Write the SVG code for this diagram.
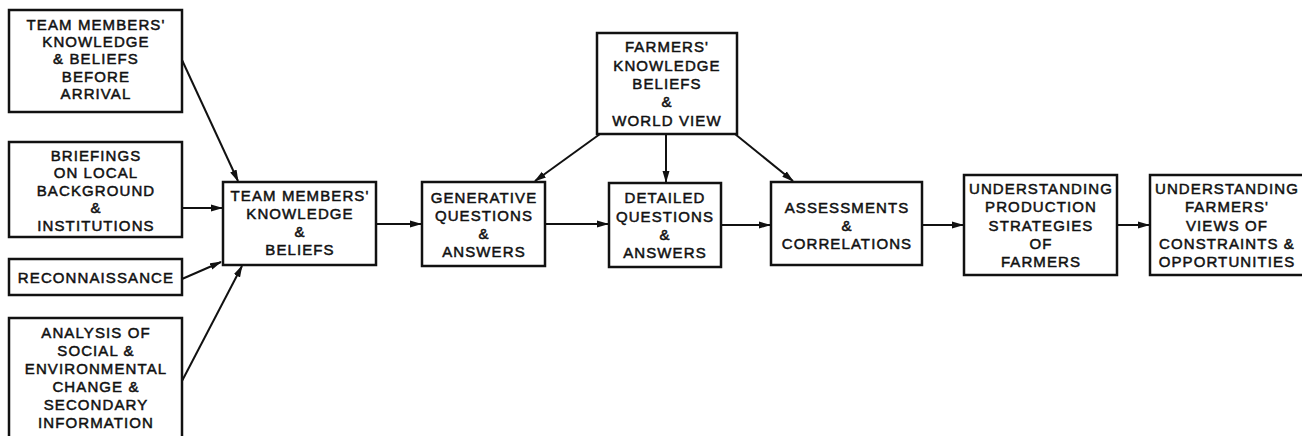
<svg xmlns="http://www.w3.org/2000/svg" width="1302" height="436" viewBox="0 0 1302 436">
<style>
  .box { fill: #fff; stroke: #111; stroke-width: 2.5; }
  .lbl { font-family: "Liberation Sans", Arial, sans-serif; font-size: 15px; letter-spacing: 1.1px; fill: #111; text-anchor: middle; stroke: #111; stroke-width: 0.5; }
  .con { stroke: #111; stroke-width: 2; fill: none; marker-end: url(#ah); }
</style>
<defs>
  <marker id="ah" markerUnits="userSpaceOnUse" markerWidth="12" markerHeight="8" refX="11" refY="4" orient="auto">
    <path d="M0,0.5 L12,4 L0,7.5 z" fill="#111"/>
  </marker>
</defs>
<rect width="1302" height="436" fill="#fff"/>

<g id="n-before-arrival">
  <rect class="box" x="9" y="10" width="173" height="102"/>
  <text class="lbl" x="96" y="29.5">TEAM MEMBERS'</text>
  <text class="lbl" x="96" y="47">KNOWLEDGE</text>
  <text class="lbl" x="96" y="64.3">&amp; BELIEFS</text>
  <text class="lbl" x="96" y="81.6">BEFORE</text>
  <text class="lbl" x="96" y="99">ARRIVAL</text>
</g>
<g id="n-briefings">
  <rect class="box" x="9" y="142" width="173" height="95"/>
  <text class="lbl" x="96" y="160.7">BRIEFINGS</text>
  <text class="lbl" x="96" y="178.2">ON LOCAL</text>
  <text class="lbl" x="96" y="195.7">BACKGROUND</text>
  <text class="lbl" x="96" y="213.2">&amp;</text>
  <text class="lbl" x="96" y="230.7">INSTITUTIONS</text>
</g>
<g id="n-recon">
  <rect class="box" x="9" y="259" width="173" height="36"/>
  <text class="lbl" x="96" y="283.3">RECONNAISSANCE</text>
</g>
<g id="n-analysis">
  <rect class="box" x="9" y="318" width="173" height="124"/>
  <text class="lbl" x="96" y="338.3">ANALYSIS OF</text>
  <text class="lbl" x="96" y="356.3">SOCIAL &amp;</text>
  <text class="lbl" x="96" y="374.3">ENVIRONMENTAL</text>
  <text class="lbl" x="96" y="392.3">CHANGE &amp;</text>
  <text class="lbl" x="96" y="410.3">SECONDARY</text>
  <text class="lbl" x="96" y="428.3">INFORMATION</text>
</g>
<g id="n-team">
  <rect class="box" x="223" y="182" width="153" height="83"/>
  <text class="lbl" x="300" y="200.7">TEAM MEMBERS'</text>
  <text class="lbl" x="300" y="218.7">KNOWLEDGE</text>
  <text class="lbl" x="300" y="236.7">&amp;</text>
  <text class="lbl" x="300" y="254.7">BELIEFS</text>
</g>
<g id="n-farmers">
  <rect class="box" x="597" y="33" width="140" height="101"/>
  <text class="lbl" x="667" y="52.3">FARMERS'</text>
  <text class="lbl" x="667" y="70.7">KNOWLEDGE</text>
  <text class="lbl" x="667" y="89">BELIEFS</text>
  <text class="lbl" x="667" y="107.4">&amp;</text>
  <text class="lbl" x="667" y="125.8">WORLD VIEW</text>
</g>
<g id="n-generative">
  <rect class="box" x="422" y="182" width="123" height="84"/>
  <text class="lbl" x="484" y="202.7">GENERATIVE</text>
  <text class="lbl" x="484" y="220.7">QUESTIONS</text>
  <text class="lbl" x="484" y="239">&amp;</text>
  <text class="lbl" x="484" y="256.7">ANSWERS</text>
</g>
<g id="n-detailed">
  <rect class="box" x="609" y="183" width="112" height="84"/>
  <text class="lbl" x="665" y="202.7">DETAILED</text>
  <text class="lbl" x="665" y="221.5">QUESTIONS</text>
  <text class="lbl" x="665" y="240">&amp;</text>
  <text class="lbl" x="665" y="258.3">ANSWERS</text>
</g>
<g id="n-assessments">
  <rect class="box" x="771" y="182" width="151" height="83"/>
  <text class="lbl" x="847" y="212.7">ASSESSMENTS</text>
  <text class="lbl" x="847" y="230.7">&amp;</text>
  <text class="lbl" x="847" y="249.3">CORRELATIONS</text>
</g>
<g id="n-production">
  <rect class="box" x="964" y="175" width="153" height="100"/>
  <text class="lbl" x="1041" y="194">UNDERSTANDING</text>
  <text class="lbl" x="1041" y="212.3">PRODUCTION</text>
  <text class="lbl" x="1041" y="230.7">STRATEGIES</text>
  <text class="lbl" x="1041" y="249.3">OF</text>
  <text class="lbl" x="1041" y="267.3">FARMERS</text>
</g>
<g id="n-views">
  <rect class="box" x="1150" y="175" width="154" height="100"/>
  <text class="lbl" x="1227" y="194">UNDERSTANDING</text>
  <text class="lbl" x="1227" y="212.3">FARMERS'</text>
  <text class="lbl" x="1227" y="230.7">VIEWS OF</text>
  <text class="lbl" x="1227" y="249.3">CONSTRAINTS &amp;</text>
  <text class="lbl" x="1227" y="267.3">OPPORTUNITIES</text>
</g>

<g id="connectors">
  <line class="con" x1="182" y1="60" x2="238" y2="181"/>
  <line class="con" x1="182" y1="208" x2="222" y2="208"/>
  <line class="con" x1="182" y1="279" x2="221" y2="262"/>
  <line class="con" x1="182" y1="381" x2="242" y2="266"/>
  <line class="con" x1="376" y1="224" x2="421" y2="224"/>
  <line class="con" x1="545" y1="224" x2="608" y2="224"/>
  <line class="con" x1="721" y1="225" x2="770" y2="225"/>
  <line class="con" x1="922" y1="225" x2="963" y2="225"/>
  <line class="con" x1="1117" y1="225" x2="1149" y2="225"/>
  <line class="con" x1="600" y1="134" x2="535" y2="181"/>
  <line class="con" x1="666" y1="134" x2="666" y2="182"/>
  <line class="con" x1="735" y1="134" x2="793" y2="181"/>
</g>
</svg>
